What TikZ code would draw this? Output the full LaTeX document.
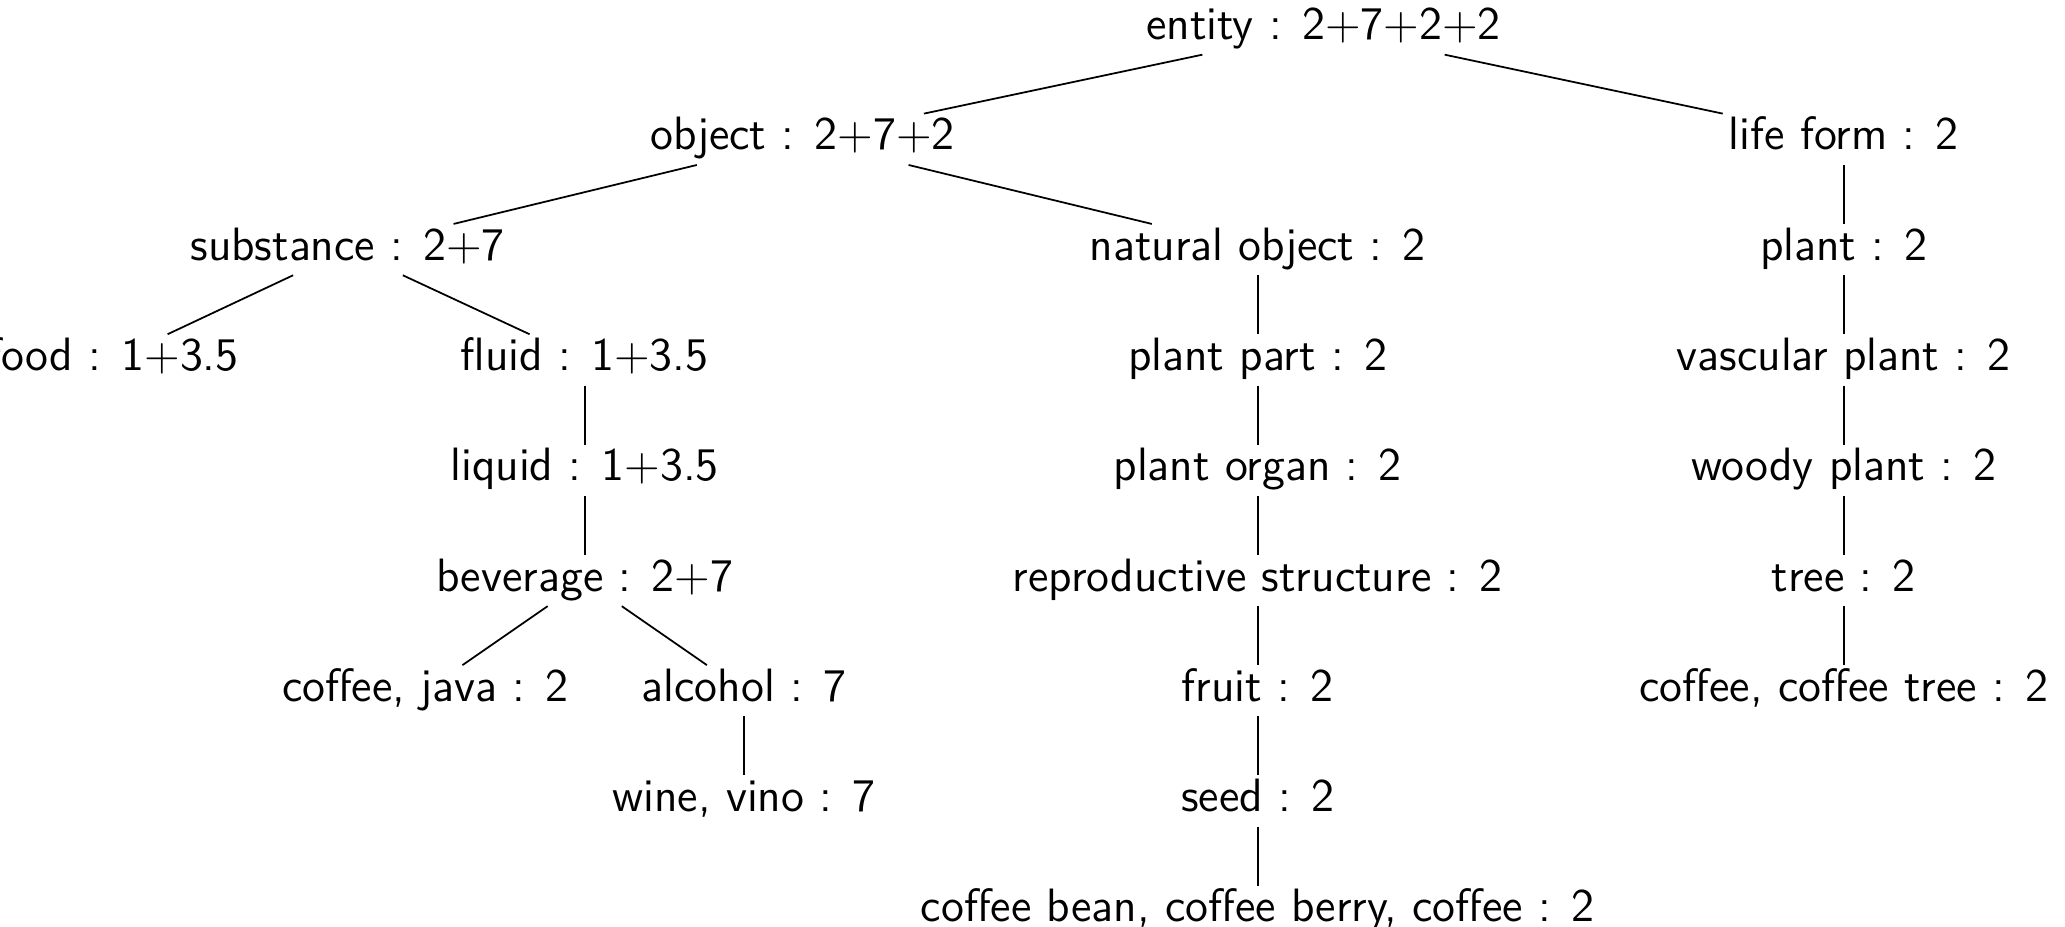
\documentclass[tikz,border=0pt]{standalone}
\begin{document}
\begin{tikzpicture}[x=0.01cm,y=-0.01cm,
  tn/.style={font=\sffamily\fontsize{13.3}{15}\selectfont, inner xsep=2pt, inner ysep=0pt,
    text height=10.1pt, text depth=4.1pt},
  edge/.style={line width=0.5pt}]
\useasboundingbox (0,0) rectangle (2065,927);
\clip (0,0) rectangle (2065,927);
% rows
\node[tn] (entity) at (1323.6,29) {entity : 2+7+2+2};
\node[tn] (object) at (802.7,139.3) {object : 2+7+2};
\node[tn] (life) at (1843.8,139.3) {life form : 2};
\node[tn] (subst) at (347.7,249.6) {substance : 2+7};
\node[tn] (natobj) at (1257.7,249.6) {natural object : 2};
\node[tn] (plant) at (1843.8,249.6) {plant : 2};
\node[tn] (food) at (113,359.9) {food : 1+3.5};
\node[tn] (fluid) at (584.7,359.9) {fluid : 1+3.5};
\node[tn] (ppart) at (1257.7,359.9) {plant part : 2};
\node[tn] (vasc) at (1843.8,359.9) {vascular plant : 2};
\node[tn] (liquid) at (584.7,470.2) {liquid : 1+3.5};
\node[tn] (porgan) at (1257.7,470.2) {plant organ : 2};
\node[tn] (woody) at (1843.8,470.2) {woody plant : 2};
\node[tn] (bev) at (584.7,580.5) {beverage : 2+7};
\node[tn] (repro) at (1257.7,580.5) {reproductive structure : 2};
\node[tn] (tree) at (1843.8,580.5) {tree : 2};
\node[tn] (java) at (425.4,690.8) {coffee, java : 2};
\node[tn] (alcohol) at (744,690.8) {alcohol : 7};
\node[tn] (fruit) at (1257.7,690.8) {fruit : 2};
\node[tn] (ctree) at (1843.8,690.8) {coffee, coffee tree : 2};
\node[tn] (wine) at (744,801.1) {wine, vino : 7};
\node[tn] (seed) at (1257.7,801.1) {seed : 2};
\node[tn] (bean) at (1257.7,911.4) {coffee bean, coffee berry, coffee : 2};
% edges
\draw[edge] (entity) -- (object);
\draw[edge] (entity) -- (life);
\draw[edge] (object) -- (subst);
\draw[edge] (object) -- (natobj);
\draw[edge] (life) -- (plant);
\draw[edge] (subst) -- (food);
\draw[edge] (subst) -- (fluid);
\draw[edge] (fluid) -- (liquid);
\draw[edge] (liquid) -- (bev);
\draw[edge] (bev) -- (java);
\draw[edge] (bev) -- (alcohol);
\draw[edge] (alcohol) -- (wine);
\draw[edge] (natobj) -- (ppart);
\draw[edge] (ppart) -- (porgan);
\draw[edge] (porgan) -- (repro);
\draw[edge] (repro) -- (fruit);
\draw[edge] (fruit) -- (seed);
\draw[edge] (seed) -- (bean);
\draw[edge] (plant) -- (vasc);
\draw[edge] (vasc) -- (woody);
\draw[edge] (woody) -- (tree);
\draw[edge] (tree) -- (ctree);
\end{tikzpicture}
\end{document}
